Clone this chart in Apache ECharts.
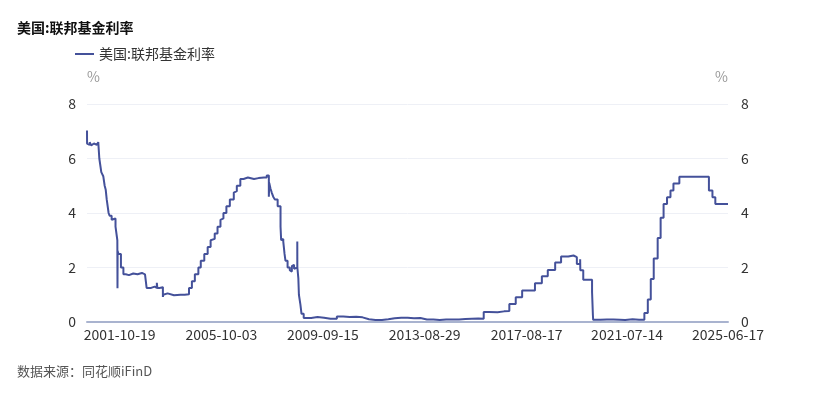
<!DOCTYPE html>
<html>
<head>
<meta charset="utf-8">
<script src="https://cdn.jsdelivr.net/npm/echarts@6/dist/echarts.min.js"></script>
<style>
  html, body { margin: 0; padding: 0; background: #fff; }
  #chart { width: 817px; height: 398px; }
</style>
</head>
<body>
<div id="chart"></div>
<script>
// 美国:联邦基金利率 (%), 取值点：日期 -> 自该日起的数值
const dates = [
  '2000-07-13', '2000-07-14', '2000-08-01', '2000-08-20', '2000-09-10', '2000-10-01', '2000-10-20', '2000-11-10', '2000-12-01', '2000-12-20',
  '2001-01-04', '2001-02-01', '2001-02-15', '2001-03-01', '2001-03-21', '2001-04-05', '2001-04-19', '2001-05-16', '2001-05-30', '2001-06-28', '2001-07-05', '2001-07-20',
  '2001-08-22', '2001-09-17', '2001-09-19', '2001-09-21', '2001-10-03', '2001-11-07', '2001-12-12',
  '2002-01-15', '2002-03-01', '2002-05-01', '2002-07-01', '2002-09-01', '2002-10-15',
  '2002-11-07', '2003-01-10', '2003-03-01', '2003-04-01', '2003-04-08', '2003-05-10',
  '2003-06-26', '2003-07-01', '2003-07-15', '2003-09-01', '2003-12-01', '2004-03-01', '2004-05-01',
  '2004-07-01', '2004-08-11', '2004-09-22', '2004-11-11', '2004-12-15', '2005-02-03', '2005-03-23', '2005-05-04', '2005-06-01', '2005-07-01',
  '2005-08-10', '2005-09-21', '2005-10-15', '2005-11-02', '2005-12-14', '2006-02-01', '2006-03-29', '2006-04-15', '2006-05-11', '2006-06-30',
  '2006-08-15', '2006-10-15', '2007-01-10', '2007-03-15', '2007-06-01', '2007-07-10',
  '2007-08-09', '2007-08-15', '2007-09-01', '2007-09-19', '2007-10-10', '2007-11-01', '2007-12-12', '2008-01-22', '2008-01-31',
  '2008-02-15', '2008-03-01', '2008-03-19', '2008-04-01', '2008-05-01', '2008-06-01', '2008-06-15', '2008-07-01', '2008-07-15', '2008-08-01',
  '2008-08-20', '2008-09-16', '2008-09-17',
  '2008-10-01', '2008-10-09', '2008-10-30', '2008-11-15', '2008-12-16',
  '2009-01-01', '2009-04-01', '2009-07-01', '2009-10-01', '2010-01-01', '2010-04-01', '2010-07-01', '2010-10-01',
  '2011-01-01', '2011-04-01', '2011-07-01', '2011-10-01', '2012-01-01', '2012-04-01', '2012-07-01', '2012-10-01',
  '2013-01-01', '2013-04-01', '2013-07-01', '2013-10-01', '2014-01-01', '2014-04-01', '2014-07-01', '2014-10-01',
  '2015-01-01', '2015-04-01', '2015-07-01', '2015-10-01', '2015-12-17', '2016-03-01', '2016-07-01', '2016-10-01',
  '2016-12-15', '2017-03-16', '2017-06-15', '2017-12-14', '2018-03-22', '2018-06-14', '2018-09-27', '2018-12-20',
  '2019-04-01', '2019-06-15', '2019-08-01', '2019-09-17', '2019-09-19', '2019-10-31', '2020-03-04', '2020-03-16', '2020-03-20',
  '2020-07-01', '2020-10-01', '2021-01-01', '2021-04-01', '2021-06-17', '2021-10-01', '2022-01-01',
  '2022-03-17', '2022-05-05', '2022-06-16', '2022-07-28', '2022-09-22', '2022-11-03', '2022-12-15',
  '2023-02-02', '2023-03-23', '2023-05-04', '2023-07-27', '2024-09-19', '2024-11-08', '2024-12-19', '2025-06-17'
];
const rates = [
  7.03, 6.55, 6.5, 6.6, 6.48, 6.55, 6.6, 6.5, 6.55, 6.6,
  6.0, 5.5, 5.45, 5.35, 5.0, 4.85, 4.5, 4.0, 3.9, 3.75, 3.7, 3.8,
  3.5, 3.0, 1.24, 2.6, 2.5, 2.0, 1.75,
  1.72, 1.78, 1.75, 1.8, 1.75, 1.78,
  1.25, 1.3, 1.25, 1.44, 1.25, 1.28,
  0.92, 1.0, 1.05, 0.98, 1.0, 1.0, 1.02,
  1.25, 1.5, 1.75, 2.0, 2.25, 2.5, 2.75, 3.0, 3.05, 3.25,
  3.5, 3.75, 3.8, 4.0, 4.25, 4.5, 4.75, 4.8, 5.0, 5.25,
  5.3, 5.25, 5.28, 5.3, 5.3, 5.38,
  4.6, 5.1, 4.9, 4.75, 4.6, 4.5, 4.25, 3.5, 3.0,
  3.05, 2.95, 2.5, 2.25, 2.0, 1.9, 1.85, 2.05, 2.1, 1.95,
  2.0, 2.95, 2.0,
  1.6, 1.0, 0.65, 0.3, 0.15,
  0.15, 0.18, 0.16, 0.12, 0.12, 0.2, 0.18, 0.19,
  0.17, 0.1, 0.07, 0.07, 0.1, 0.14, 0.16, 0.16,
  0.14, 0.15, 0.09, 0.09, 0.07, 0.09, 0.09, 0.09,
  0.11, 0.12, 0.13, 0.12, 0.37, 0.36, 0.39, 0.4,
  0.66, 0.91, 1.16, 1.42, 1.68, 1.91, 2.18, 2.4,
  2.44, 2.38, 2.13, 2.3, 1.9, 1.55, 1.1, 0.25, 0.08,
  0.09, 0.09, 0.08, 0.07, 0.1, 0.08, 0.08,
  0.33, 0.83, 1.58, 2.33, 3.08, 3.83, 4.33,
  4.58, 4.83, 5.08, 5.33, 4.83, 4.58, 4.33, 4.33
];
const tickLabels = ['2001-10-19', '2005-10-03', '2009-09-15', '2013-08-29', '2017-08-17', '2021-07-14', '2025-06-17'];
const yTicks = [0, 2, 4, 6, 8];

const seriesName = '美国:联邦基金利率';
const lineColor = '#44519a';
const toTime = (s) => new Date(s + 'T00:00:00').getTime();

const chart = echarts.init(document.getElementById('chart'));

const yAxisBase = {
  type: 'value',
  min: yTicks[0],
  max: yTicks[yTicks.length - 1],
  interval: yTicks[1] - yTicks[0],
  name: '%',
  nameGap: 20,
  axisLine: { show: false },
  axisTick: { show: false },
  axisLabel: { color: '#333', fontSize: 14 }
};

const option = {
  animation: false,
  textStyle: { fontFamily: '"Noto Sans CJK SC", "Noto Sans", sans-serif' },
  title: {
    text: seriesName,
    left: 17,
    top: 21,
    padding: 0,
    textStyle: { fontSize: 14, fontWeight: 'bold', color: '#111' }
  },
  legend: {
    left: 75,
    top: 47,
    padding: 0,
    itemWidth: 19,
    itemHeight: 2,
    icon: 'rect',
    data: [seriesName],
    textStyle: { fontSize: 14, color: '#333' }
  },
  grid: { left: 87, right: 89, top: 104, bottom: 76 },
  xAxis: {
    type: 'time',
    min: dates[0],
    max: tickLabels[tickLabels.length - 1],
    splitLine: { show: false },
    axisTick: { show: false },
    axisLine: { lineStyle: { color: '#a9b3cf', width: 2 } },
    axisLabel: {
      customValues: tickLabels.map(toTime),
      formatter: '{yyyy}-{MM}-{dd}',
      color: '#333',
      fontSize: 14,
      margin: 6,
      hideOverlap: false
    }
  },
  yAxis: [
    Object.assign({}, yAxisBase, {
      position: 'left',
      nameTextStyle: { color: '#999', fontSize: 14, align: 'left' },
      axisLabel: { color: '#333', fontSize: 14, margin: 11 },
      splitLine: { lineStyle: { color: '#eef0f6' } }
    }),
    Object.assign({}, yAxisBase, {
      position: 'right',
      nameTextStyle: { color: '#999', fontSize: 14, align: 'right' },
      axisLabel: { color: '#333', fontSize: 14, margin: 13 },
      splitLine: { show: false }
    })
  ],
  series: [
    {
      name: seriesName,
      type: 'line',
      step: 'end',
      showSymbol: false,
      yAxisIndex: 0,
      data: dates.map((d, i) => [d, rates[i]]),
      itemStyle: { color: lineColor },
      lineStyle: { color: lineColor, width: 2 }
    }
  ],
  graphic: [
    {
      type: 'text',
      left: 17,
      top: 365,
      style: { text: '数据来源：同花顺iFinD', fontSize: 13, fill: '#555', fontFamily: '"Noto Sans CJK SC", sans-serif' }
    }
  ]
};

chart.setOption(option);
</script>
</body>
</html>
